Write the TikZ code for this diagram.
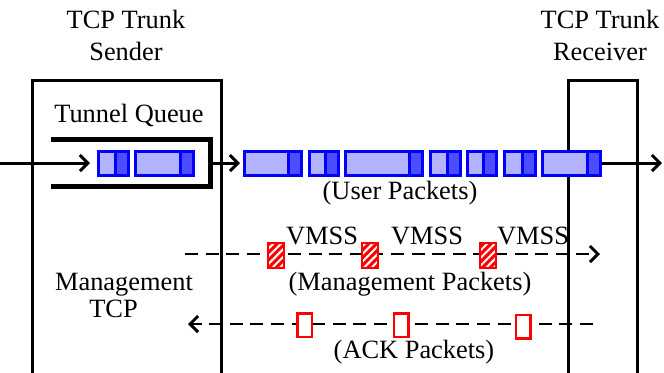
\documentclass[tikz,border=0pt]{standalone}
\usepackage{fontspec}
\setmainfont{Liberation Serif}
\usetikzlibrary{positioning}
\usetikzlibrary{arrows.meta}
\usetikzlibrary{patterns.meta}

\definecolor{pktlight}{RGB}{179,179,255}
\definecolor{pktdark}{RGB}{77,77,255}

\tikzset{
	host/.style={draw, line width=1.5pt, inner sep=0pt},
	title/.style={align=center, inner sep=0pt, anchor=north},
	lbl/.style={inner sep=0pt, anchor=base},
	pkt/.style={draw=blue, fill=pktlight, line width=1.5pt, minimum height=12pt, inner sep=0pt},
	pkttail/.style={draw=blue, fill=pktdark, line width=1.5pt, minimum height=12pt, minimum width=6.5pt, inner sep=0pt, anchor=east},
	mpkt/.style={draw=red, line width=1pt, preaction={fill=red}, pattern={Lines[angle=45, distance=2.7pt, line width=1pt]}, pattern color=white, minimum width=8pt, minimum height=12.5pt, inner sep=0pt},
	apkt/.style={draw=red, fill=white, line width=1.25pt, minimum width=7.25pt, minimum height=11.75pt, inner sep=0pt},
	flow/.style={line width=1.5pt, -{Straight Barb[length=4pt, width=8pt]}},
	ctrl/.style={line width=1.45pt, dash pattern=on 6.5pt off 3.8pt, -{Straight Barb[length=4pt, width=8pt]}},
}

\begin{document}
\begin{tikzpicture}[x=0.5pt, y=-0.5pt, font=\fontsize{13.2pt}{16pt}\selectfont]
	\useasboundingbox (0,0) rectangle (664,372);

	% hosts
	\node[host, minimum width=94.5pt, minimum height=170pt] (sender) at (126.5,250) {};
	\node[host, minimum width=34.5pt, minimum height=170pt] (receiver) at (602.5,250) {};
	\node[title] (sendertxt) at (126,10) {TCP Trunk\\Sender};
	\node[title] (receivertxt) at (600,10) {TCP Trunk\\Receiver};
	\node[lbl] (mgmttxt) at (124,290) {Management};
	\node[lbl] (tcptxt) at (113.5,317) {TCP};

	% tunnel queue
	\node[lbl] (queuetxt) at (129,122) {Tunnel Queue};
	\node[minimum width=79.5pt, minimum height=23.5pt, inner sep=0pt, outer sep=0pt] (queue) at (130.5,163) {};
	\draw[line width=2.5pt] (queue.north west) -| (queue.south east) -- (queue.south west);

	\node[pkt, minimum width=15pt] (q1) at (113.5,163) {};
	\node[pkttail] (q1t) at (q1.east) {};
	\node[pkt, minimum width=29pt] (q2) at (164.5,163) {};
	\node[pkttail] (q2t) at (q2.east) {};

	% user packets
	\node[pkt, minimum width=28.5pt] (u1) at (273,163) {};
	\node[pkt, minimum width=14.5pt, right=2.25pt of u1] (u2) {};
	\node[pkt, minimum width=38.5pt, right=2.25pt of u2] (u3) {};
	\node[pkt, minimum width=15pt, right=2.25pt of u3] (u4) {};
	\node[pkt, minimum width=14.5pt, right=2.25pt of u4] (u5) {};
	\node[pkt, minimum width=15.5pt, right=2.25pt of u5] (u6) {};
	\node[pkt, minimum width=29pt, right=2.25pt of u6] (u7) {};
	\node[pkttail] (u1t) at (u1.east) {};
	\node[pkttail] (u2t) at (u2.east) {};
	\node[pkttail] (u3t) at (u3.east) {};
	\node[pkttail] (u4t) at (u4.east) {};
	\node[pkttail] (u5t) at (u5.east) {};
	\node[pkttail] (u6t) at (u6.east) {};
	\node[pkttail] (u7t) at (u7.east) {};
	\node[lbl] (usertxt) at (400,199) {(User Packets)};

	% data path
	\coordinate (in) at (0,163);
	\coordinate (out) at (662,163);
	\draw[flow, shorten >=3.5pt] (in) -- (q1.west);
	\draw[flow, shorten >=1.5pt] (queue.east) -- (u1.west);
	\draw[flow] (u7.east) -- (out);

	% management packets
	\coordinate (mfrom) at (185,254);
	\coordinate (mto) at (600,254);
	\draw[ctrl] (mfrom) -- (mto);
	\node[mpkt] (m1) at (276,255.5) {};
	\node[mpkt] (m2) at (370,255.5) {};
	\node[mpkt] (m3) at (487.5,255.5) {};
	\node[lbl] (v1) at (322,244) {VMSS};
	\node[lbl] (v2) at (427,244) {VMSS};
	\node[lbl] (v3) at (533,244) {VMSS};
	\node[lbl] (mpkttxt) at (410,290) {(Management Packets)};

	% ack packets
	\coordinate (afrom) at (593,324);
	\coordinate (ato) at (188,324);
	\draw[ctrl] (afrom) -- (ato);
	\node[apkt] (a1) at (304.5,325) {};
	\node[apkt] (a2) at (401,325) {};
	\node[apkt] (a3) at (523,326.5) {};
	\node[lbl] (acktxt) at (414,358) {(ACK Packets)};
\end{tikzpicture}
\end{document}
